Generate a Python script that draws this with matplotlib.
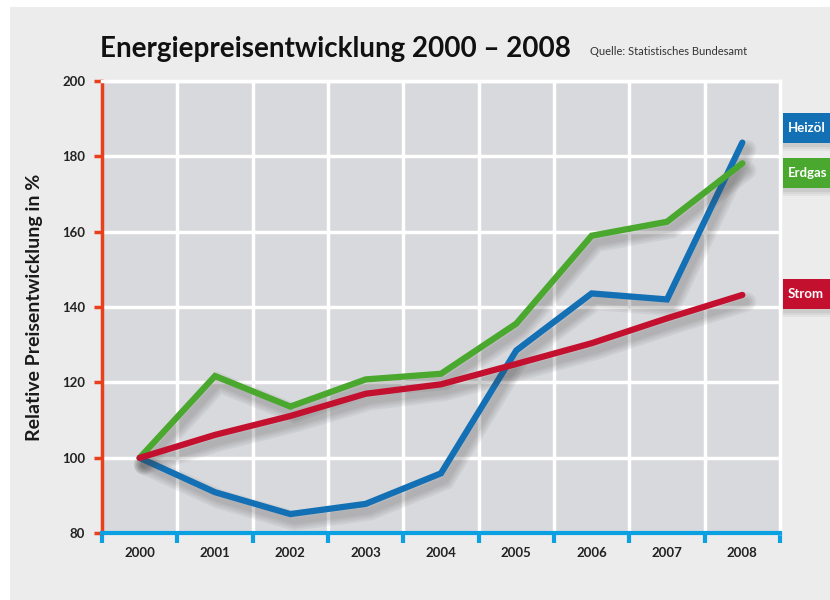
import matplotlib.pyplot as plt
import matplotlib.patheffects as pe
from matplotlib.patches import Rectangle

# Data
years = ['2000', '2001', '2002', '2003', '2004', '2005', '2006', '2007', '2008']
heizoel = [100, 90.9, 85.1, 87.8, 95.9, 128.5, 143.6, 142.0, 183.6]
erdgas = [100, 121.7, 113.6, 120.8, 122.3, 135.6, 158.9, 162.6, 178.1]
strom = [100, 106.1, 111.1, 117.0, 119.5, 124.9, 130.4, 137.0, 143.2]
yticks = [80, 100, 120, 140, 160, 180, 200]

series = [('Heizöl', heizoel, '#1470b4'),
          ('Erdgas', erdgas, '#4aa82e'),
          ('Strom', strom, '#c4102f')]

plt.rcParams['font.family'] = ['Lato', 'DejaVu Sans']

fig = plt.figure(figsize=(8.3, 6), dpi=100)
fig.patch.set_facecolor('white')
fig.patches.append(Rectangle((10/830, 0), 1, 593/600, transform=fig.transFigure,
                             facecolor='#ececec', edgecolor='none', zorder=-5))

ax = fig.add_axes([102/830, 66.7/600, 678/830, 452.6/600])
ax.set_zorder(1)
ax.set_facecolor('#d8d9dc')
x = list(range(len(years)))

# soft drop shadow: a few wide, faint shadow strokes under the line
shadow = [pe.SimpleLineShadow(offset=(3, -5), shadow_color='#444444', alpha=0.07, linewidth=w)
          for w in (14, 11, 8, 5)] + [pe.Normal()]
for name, vals, col in series:
    ax.plot(x, vals, color=col, lw=4.5, solid_capstyle='round',
            solid_joinstyle='miter', path_effects=shadow, zorder=3)

ax.set_xlim(-0.5, len(years) - 0.5)
ax.set_ylim(80, 200)
ax.set_yticks(yticks)
ax.set_yticklabels([str(v) for v in yticks], fontsize=9.5, fontweight='bold')
ax.set_xticks(x)
ax.set_xticklabels(years, fontsize=9.5, fontweight='bold')
ax.set_xticks([i + 0.5 for i in range(-1, len(years))], minor=True)

# grid
for v in yticks[1:]:
    ax.axhline(v, color='white', lw=2.5, zorder=1)
for i in range(len(years) - 1):
    ax.axvline(i + 0.5, color='white', lw=2.5, zorder=1)

ax.spines['top'].set_color('white')
ax.spines['top'].set_linewidth(2.5)
ax.spines['right'].set_color('white')
ax.spines['right'].set_linewidth(2.5)
ax.spines['left'].set_color('#e8401c')
ax.spines['left'].set_linewidth(2.5)
ax.spines['bottom'].set_color('#0aa0e2')
ax.spines['bottom'].set_linewidth(3)

ax.tick_params(axis='y', colors='#e8401c', length=6, width=2.5, pad=6, labelcolor='#222222')
ax.tick_params(axis='x', which='major', length=0, pad=10, labelcolor='#222222')
ax.tick_params(axis='x', which='minor', length=7, width=3, colors='#0aa0e2')

ax.set_ylabel('Relative Preisentwicklung in %', fontsize=14, fontweight='bold',
              color='#1a1a1a', labelpad=14)

fig.text(100/830, 1 - 57/600, 'Energiepreisentwicklung 2000 – 2008', fontsize=20,
         fontweight='bold', color='#111111', ha='left', va='baseline')
fig.text(590/830, 1 - 55/600, 'Quelle: Statistisches Bundesamt', fontsize=8,
         color='#333333', ha='left', va='baseline')

# label boxes on the right
boxes = [('Heizöl', 113, '#1470b4'), ('Erdgas', 158, '#4aa82e'), ('Strom', 279, '#c4102f')]
for name, top, col in boxes:
    for d, a in ((8, 0.08), (6, 0.1), (4, 0.12)):
        fig.patches.append(Rectangle((783/830, 1 - (top + 30 + d)/600), 60/830, 30/600,
                                     transform=fig.transFigure, facecolor='#777777',
                                     edgecolor='none', alpha=a, zorder=2))
    fig.patches.append(Rectangle((783/830, 1 - (top + 30)/600), 60/830, 30/600,
                                 transform=fig.transFigure, facecolor=col,
                                 edgecolor='none', zorder=3))
    fig.text(788/830, 1 - (top + 15)/600, name, fontsize=9.5, fontweight='bold',
             color='white', ha='left', va='center', zorder=4)

fig.savefig('out.png', dpi=100)
